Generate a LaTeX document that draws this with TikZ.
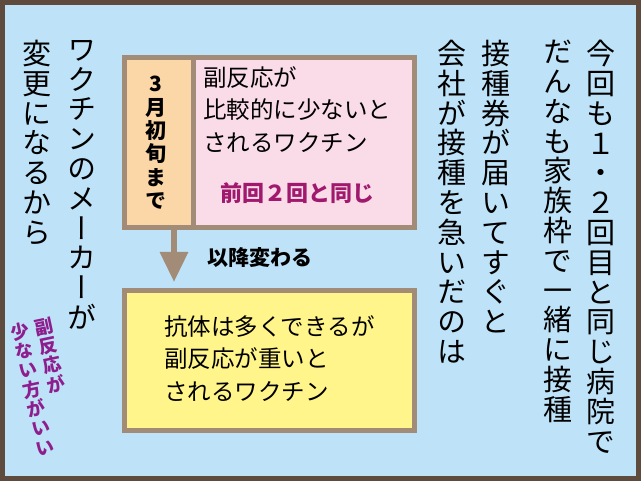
\documentclass[tikz,border=0pt]{standalone}
\usepackage{fontspec}
\setmainfont{Noto Sans CJK JP}
\newfontfamily\tatefont[RawFeature=+vert]{Noto Sans CJK JP}
\usetikzlibrary{arrows.meta}

\definecolor{framebrown}{HTML}{5F4B3D}
\definecolor{skyblue}{HTML}{BEE3F8}
\definecolor{boxbrown}{HTML}{A28B77}
\definecolor{boxpink}{HTML}{FADCE8}
\definecolor{boxorange}{HTML}{FBD6A6}
\definecolor{boxyellow}{HTML}{FFF58A}
\definecolor{notemagenta}{HTML}{A0196E}
\definecolor{notepurple}{HTML}{8E1E8E}

% one character per line, top to bottom
\def\tatenext#1{\ifx#1\relax\else\hbox to 1em{\hss#1\hss}\expandafter\tatenext\fi}
\newcommand\tate[1]{\vtop{\tatenext#1\relax}}

\begin{document}
\begin{tikzpicture}[x=1pt,y=-1pt]
\tikzstyle{frame}=[draw=framebrown,fill=skyblue,line width=5pt]
\tikzstyle{box}=[draw=boxbrown,line width=5pt,inner sep=0pt,anchor=north west]
\tikzstyle{tatecol}=[anchor=north,inner sep=0pt,font=\tatefont\fontsize{29}{29.8}\selectfont]
\tikzstyle{yoko}=[anchor=north west,inner sep=0pt,align=left,font=\fontsize{23.5}{32.5}\selectfont]
\tikzstyle{arrow}=[draw=boxbrown,line width=6pt,-{Triangle[width=27pt,length=30pt]}]
\tikzstyle{note}=[anchor=north west,inner sep=0pt,rotate=12,text=notepurple]

\useasboundingbox (0,0) rectangle (641,481);
\draw[frame] (2.5,2.5) rectangle (638.5,478.5);

% right side, read from right to left
\node[tatecol] (line1) at (601,40) {\tate{今回も１・２回目と同じ病院で}};
\node[tatecol] (line2) at (558,40) {\tate{だんなも家族枠で一緒に接種}};
\node[tatecol] (line3) at (496,40) {\tate{接種券が届いてすぐと}};
\node[tatecol] (line4) at (452,40) {\tate{会社が接種を急いだのは}};

% left side
\node[tatecol] (line5) at (82,40) {\tate{ワクチンのメーカーが}};
\node[tatecol] (line6) at (37,40) {\tate{変更になるから}};

% before
\node[box,fill=boxpink,minimum width=290pt,minimum height=170pt] (before) at (121.5,55.5) {};
\node[box,fill=boxorange,minimum width=69pt,minimum height=170pt] (until) at (121.5,55.5) {};
\node[anchor=north,inner sep=0pt,font=\tatefont\bfseries\fontsize{21}{23.4}\selectfont] (untiltxt) at (156,76) {\tate{3月初旬まで}};
\node[yoko] (beforetxt) at (203,66) {副反応が\\比較的に少ないと\\されるワクチン};
\node[anchor=north west,inner sep=0pt,text=notemagenta,font=\bfseries\fontsize{22}{26}\selectfont] (same) at (220,182) {前回２回と同じ};

% after
\node[box,fill=boxyellow,minimum width=290pt,minimum height=140pt] (after) at (121.5,288.5) {};
\node[yoko] (aftertxt) at (164,315) {抗体は多くできるが\\副反応が重いと\\されるワクチン};

\coordinate (a1) at (174,226);
\coordinate (a2) at (174,282);
\path (a1) edge[arrow] (a2);
\node[anchor=north west,inner sep=0pt,font=\bfseries\fontsize{21}{24}\selectfont] (change) at (207,247) {以降変わる};

% side note
\node[note,font=\tatefont\bfseries\fontsize{18.5}{19.8}\selectfont] (note) at (9,324.5) {\tate{少ない方がいい}\hspace{5.5pt}\tate{副反応が}};

\end{tikzpicture}
\end{document}
